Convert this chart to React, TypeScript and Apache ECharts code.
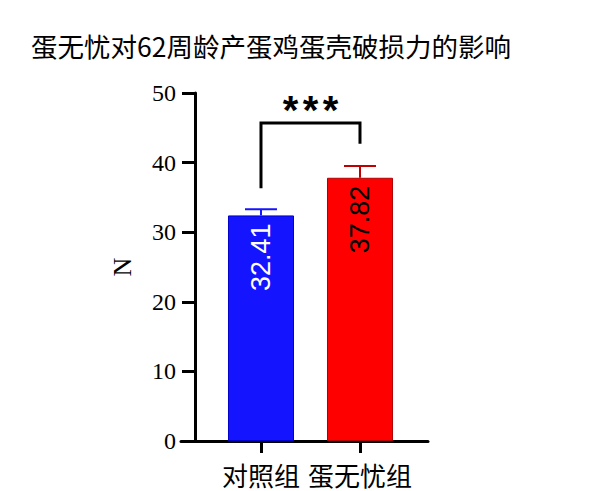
import React, { useEffect, useRef } from "react";
import * as echarts from "echarts";

const categories = ["对照组", "蛋无忧组"];
const means = [32.41, 37.82];
const errors = [0.9, 1.7];
const barColors = ["#1414FF", "#FF0000"];
const barBorders = ["#0000C8", "#B00000"];
const errColors = ["#1414FF", "#C00000"];
const labelColors = ["#FFFFFF", "#000000"];
const yTicks = [0, 10, 20, 30, 40, 50];
// bracket: [x0, x1, top, leftEnd, rightEnd]
const bracket = [[0, 1, 45.7, 36.3, 42.7]];
const sigMarks = ["*", "*", "*"];

export default function App() {
  const ref = useRef<HTMLDivElement>(null);
  useEffect(() => {
    document.body.style.margin = "0";
    if (!ref.current) return;
    const chart = echarts.init(ref.current, null, { renderer: "svg" });
    const option: any = {
      animation: false,
      backgroundColor: "#ffffff",
      title: {
        text: "蛋无忧对62周龄产蛋鸡蛋壳破损力的影响",
        left: 26,
        top: 27,
        textStyle: {
          fontFamily: "Noto Sans CJK SC",
          fontSize: 26.5,
          fontWeight: "normal",
          color: "#000",
        },
      },
      grid: { left: 181, right: 172, top: 93, bottom: 50 },
      xAxis: {
        type: "value",
        min: -0.808,
        max: 1.687,
        axisLine: { onZero: false, lineStyle: { color: "#000", width: 3 } },
        axisTick: { show: true, customValues: [0, 1], length: 12, lineStyle: { color: "#000", width: 3 } },
        axisLabel: {
          customValues: [0, 1],
          formatter: (v: number) => categories[Math.round(v)] ?? "",
          fontFamily: "Noto Sans CJK SC",
          fontSize: 26,
          color: "#000",
          margin: 20,
        },
        splitLine: { show: false },
      },
      yAxis: {
        type: "value",
        min: yTicks[0],
        max: yTicks[yTicks.length - 1],
        interval: 10,
        offset: -14,
        name: "N",
        nameLocation: "middle",
        nameGap: 60,
        nameTextStyle: { fontFamily: "Liberation Serif", fontSize: 26, color: "#000" },
        axisLine: { show: true, onZero: false, lineStyle: { color: "#000", width: 3 } },
        axisTick: { show: true, length: 13, lineStyle: { color: "#000", width: 3 } },
        axisLabel: { fontFamily: "Liberation Serif", fontSize: 24, color: "#000", margin: 19 },
        splitLine: { show: false },
      },
      series: [
        {
          type: "bar",
          barWidth: 66,
          data: means.map((m, i) => ({
            value: [i, m],
            itemStyle: { color: barColors[i], borderColor: barBorders[i], borderWidth: 1 },
            label: {
              show: true,
              position: "insideTop",
              distance: 8,
              rotate: 90,
              align: "right",
              verticalAlign: "middle",
              formatter: m.toFixed(2),
              fontFamily: "Liberation Sans",
              fontSize: 27,
              color: labelColors[i],
            },
          })),
        },
        {
          type: "custom",
          z: 5,
          data: means.map((m, i) => [i, m, errors[i]]),
          renderItem: (params: any, api: any) => {
            const x = api.value(0);
            const m = api.value(1);
            const e = api.value(2);
            const p0 = api.coord([x, m]);
            const p1 = api.coord([x, m + e]);
            const c = errColors[params.dataIndex];
            return {
              type: "group",
              children: [
                { type: "line", shape: { x1: p0[0], y1: p0[1], x2: p1[0], y2: p1[1] }, style: { stroke: c, lineWidth: 2 } },
                { type: "line", shape: { x1: p1[0] - 16, y1: p1[1], x2: p1[0] + 16, y2: p1[1] }, style: { stroke: c, lineWidth: 2 } },
              ],
            };
          },
        },
        {
          type: "custom",
          z: 6,
          data: bracket,
          renderItem: (params: any, api: any) => {
            const x0 = api.value(0);
            const x1 = api.value(1);
            const top = api.value(2);
            const l = api.value(3);
            const r = api.value(4);
            const a = api.coord([x0, l]);
            const b = api.coord([x0, top]);
            const c = api.coord([x1, top]);
            const d = api.coord([x1, r]);
            const mid = (b[0] + c[0]) / 2;
            return {
              type: "group",
              children: [
                {
                  type: "polyline",
                  shape: { points: [a, b, c, d] },
                  style: { stroke: "#000", lineWidth: 3, fill: "none" },
                },
                ...sigMarks.map((s, k) => ({
                  type: "text",
                  x: mid + (k - 1) * 20,
                  y: b[1] + 7,
                  style: {
                    text: s,
                    fontFamily: "Liberation Sans",
                    fontWeight: "bold",
                    fontSize: 40,
                    fill: "#000",
                    align: "center",
                    verticalAlign: "bottom",
                  },
                })),
              ],
            };
          },
        },
      ],
    };
    chart.setOption(option);
    return () => chart.dispose();
  }, []);
  return <div ref={ref} style={{ width: 600, height: 491 }} />;
}
